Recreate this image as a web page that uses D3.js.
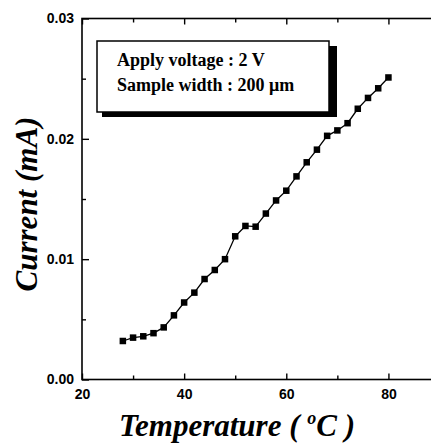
<!DOCTYPE html>
<html>
<head>
<meta charset="utf-8">
<script src="https://cdnjs.cloudflare.com/ajax/libs/d3/7.8.5/d3.min.js"></script>
<style>
  body { margin: 0; background: white; }
</style>
</head>
<body>
<script>
// temperature (C) and current (mA)
var temperature = [28, 30, 32, 34, 36, 38, 40, 42, 44, 46, 48, 50, 52, 54,
                   56, 58, 60, 62, 64, 66, 68, 70, 72, 74, 76, 78, 80];
var current = [0.0032, 0.00348, 0.00359, 0.00385, 0.00433, 0.00533, 0.0064, 0.00722, 0.00835,
               0.0091, 0.0100, 0.0119, 0.01276, 0.0127, 0.01379, 0.01488, 0.01569, 0.01688,
               0.01805, 0.0191, 0.02025, 0.0207, 0.0213, 0.0225, 0.0234, 0.0242, 0.0251];

var xMajor = [20, 40, 60, 80];
var xMinor = [30, 50, 70];
var yMajor = [0, 0.01, 0.02, 0.03];
var yMinor = [0.005, 0.015, 0.025];
var yTickLabels = ["0.00", "0.01", "0.02", "0.03"];

var legendLines = ["Apply voltage : 2 V", "Sample width : 200 \u03bcm"];

var screen = {width: 431, height: 446};
var plot = {left: 82, top: 18.5, right: 439.5, bottom: 379.5};

var svg = d3.select("body")
            .append("svg")
            .attr("width", screen.width)
            .attr("height", screen.height);

var x = d3.scaleLinear()
          .domain([20, 90])
          .range([plot.left, plot.right]);

var y = d3.scaleLinear()
          .domain([0, 0.03])
          .range([plot.bottom, plot.top]);

//frame (right side falls outside the picture)
svg.append("rect")
   .attr("x", plot.left)
   .attr("y", plot.top)
   .attr("width", plot.right - plot.left)
   .attr("height", plot.bottom - plot.top)
   .attr("fill", "none")
   .attr("stroke", "black")
   .attr("stroke-width", 1.6);

//bottom axis, ticks pointing in
var xAxis = svg.append("g")
               .attr("transform", "translate(0," + plot.bottom + ")")
               .call(d3.axisBottom(x).tickValues(xMajor).tickSizeInner(-6).tickSizeOuter(0).tickPadding(10)
                       .tickFormat(d3.format("d")));
xAxis.append("g")
     .call(d3.axisBottom(x).tickValues(xMinor).tickSizeInner(-4).tickSizeOuter(0).tickFormat(""));

//top axis
var topAxis = svg.append("g")
                 .attr("transform", "translate(0," + plot.top + ")");
topAxis.call(d3.axisTop(x).tickValues(xMajor).tickSizeInner(-6).tickSizeOuter(0).tickFormat(""));
topAxis.append("g")
       .call(d3.axisTop(x).tickValues(xMinor).tickSizeInner(-4).tickSizeOuter(0).tickFormat(""));

//left axis
var yAxis = svg.append("g")
               .attr("transform", "translate(" + plot.left + ",0)")
               .call(d3.axisLeft(y).tickValues(yMajor).tickSizeInner(-7).tickSizeOuter(0).tickPadding(8)
                       .tickFormat(function(d, i) { return yTickLabels[i]; }));
yAxis.append("g")
     .call(d3.axisLeft(y).tickValues(yMinor).tickSizeInner(-4).tickSizeOuter(0).tickFormat(""));

svg.selectAll(".domain").remove();
svg.selectAll(".tick line")
   .attr("stroke", "black")
   .attr("stroke-width", 1.4);
svg.selectAll(".tick text")
   .attr("font-family", "'Liberation Sans', Arial, sans-serif")
   .attr("font-weight", "bold")
   .attr("font-size", 14)
   .attr("fill", "black");

//data line + square markers
var points = temperature.map(function(t, i) { return [t, current[i]]; });

var line = d3.line()
             .x(function(d) { return x(d[0]); })
             .y(function(d) { return y(d[1]); });

svg.append("path")
   .datum(points)
   .attr("d", line)
   .attr("fill", "none")
   .attr("stroke", "black")
   .attr("stroke-width", 1.3);

var size = 6.5;
svg.selectAll(".marker")
   .data(points)
   .enter()
   .append("rect")
   .attr("class", "marker")
   .attr("x", function(d) { return x(d[0]) - size/2; })
   .attr("y", function(d) { return y(d[1]) - size/2; })
   .attr("width", size)
   .attr("height", size)
   .attr("fill", "black");

//legend box with drop shadow
var legend = svg.append("g")
                .attr("transform", "translate(97,41)");

legend.append("rect")
      .attr("x", 5)
      .attr("y", 5)
      .attr("width", 235)
      .attr("height", 71)
      .attr("fill", "black");

legend.append("rect")
      .attr("x", 0)
      .attr("y", 0)
      .attr("width", 232)
      .attr("height", 71)
      .attr("fill", "white")
      .attr("stroke", "black")
      .attr("stroke-width", 1.5);

legend.selectAll("text")
      .data(legendLines)
      .enter()
      .append("text")
      .attr("x", 20)
      .attr("y", function(d, i) { return 25 + i * 24.5; })
      .attr("font-family", "'Liberation Serif', 'Times New Roman', serif")
      .attr("font-weight", "bold")
      .attr("font-size", 18)
      .text(function(d) { return d; });

//axis titles
var titleFont = "'Liberation Serif', 'Times New Roman', serif";

var xTitle = svg.append("text")
                .attr("x", 237)
                .attr("y", 436)
                .attr("text-anchor", "middle")
                .attr("font-family", titleFont)
                .attr("font-weight", "bold")
                .attr("font-style", "italic")
                .attr("font-size", 31);
xTitle.append("tspan").text("Temperature ( ");
xTitle.append("tspan").attr("font-size", 18).attr("dy", -12).text("o");
xTitle.append("tspan").attr("dy", 12).text("C )");

svg.append("text")
   .attr("transform", "translate(37,204) rotate(-90)")
   .attr("text-anchor", "middle")
   .attr("font-family", titleFont)
   .attr("font-weight", "bold")
   .attr("font-style", "italic")
   .attr("font-size", 31)
   .text("Current (mA)");
</script>
</body>
</html>
